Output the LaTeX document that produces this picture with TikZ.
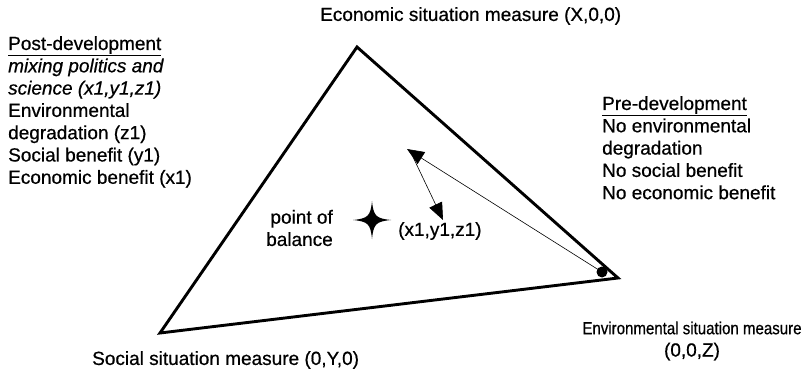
\documentclass[tikz,border=0pt]{standalone}
\usepackage{fontspec}
\usepackage{graphicx}
\setmainfont{Liberation Sans}[FakeBold=0.6]
\usetikzlibrary{arrows.meta}
\begin{document}
\begin{tikzpicture}[x=1pt,y=-1pt,
  lbl/.style={inner sep=0pt, font=\fontsize{19}{22.3}\selectfont},
  tri/.style={line width=2.9pt, line join=miter},
  thinarrow/.style={line width=0.6pt, -{Triangle[length=17pt,width=14pt]}}]
\useasboundingbox (0,0) rectangle (803,382);
\fill[white] (0,0) rectangle (803,382);
% triangle
\coordinate (E) at (357,47);
\coordinate (S) at (160,333);
\coordinate (N) at (618,278);
\draw[tri] (E) -- (N) -- (S) -- cycle;
% dot
\node[circle, fill=black, inner sep=0pt, minimum size=11pt] (dot) at (602,272) {};
% arrows
\coordinate (A) at (407,149);
\coordinate (A2) at (413,157);
\coordinate (B) at (443,220);
\draw[thinarrow] (dot.center) -- (A);
\draw[thinarrow] (A2) -- (B);
% star
\fill (372,201) .. controls (373.5,216) and (376,218.5) .. (391,220)
  .. controls (376,221.5) and (373.5,224) .. (372,239)
  .. controls (370.5,224) and (368,221.5) .. (353,220)
  .. controls (368,218.5) and (370.5,216) .. (372,201) -- cycle;
% labels
\node[lbl, anchor=west] (econ) at (320,16) {Economic situation measure (X,0,0)};
\node[lbl, anchor=north west, align=left] (post) at (8,36)
  {\underline{Post-development}\\ \textit{mixing politics and}\\ \textit{science (x1,y1,z1)}\\ Environmental\\ degradation (z1)\\ Social benefit (y1)\\ Economic benefit (x1)};
\node[lbl, anchor=north west, align=left] (pre) at (602,96)
  {\underline{Pre-development}\\ No environmental\\ degradation\\ No social benefit\\ No economic benefit};
\node[lbl, align=center] (env) at (692,341)
  {{\fontsize{17.5}{22.3}\selectfont\scalebox{0.86}[1]{Environmental situation measure}}\\ (0,0,Z)};
\node[lbl, anchor=west] (soc) at (92,360) {Social situation measure (0,Y,0)};
\node[lbl, anchor=east, align=right] (pob) at (333,228) {point of\\ balance};
\node[lbl, anchor=west] (xyz) at (398,231) {(x1,y1,z1)};
\end{tikzpicture}
\end{document}
